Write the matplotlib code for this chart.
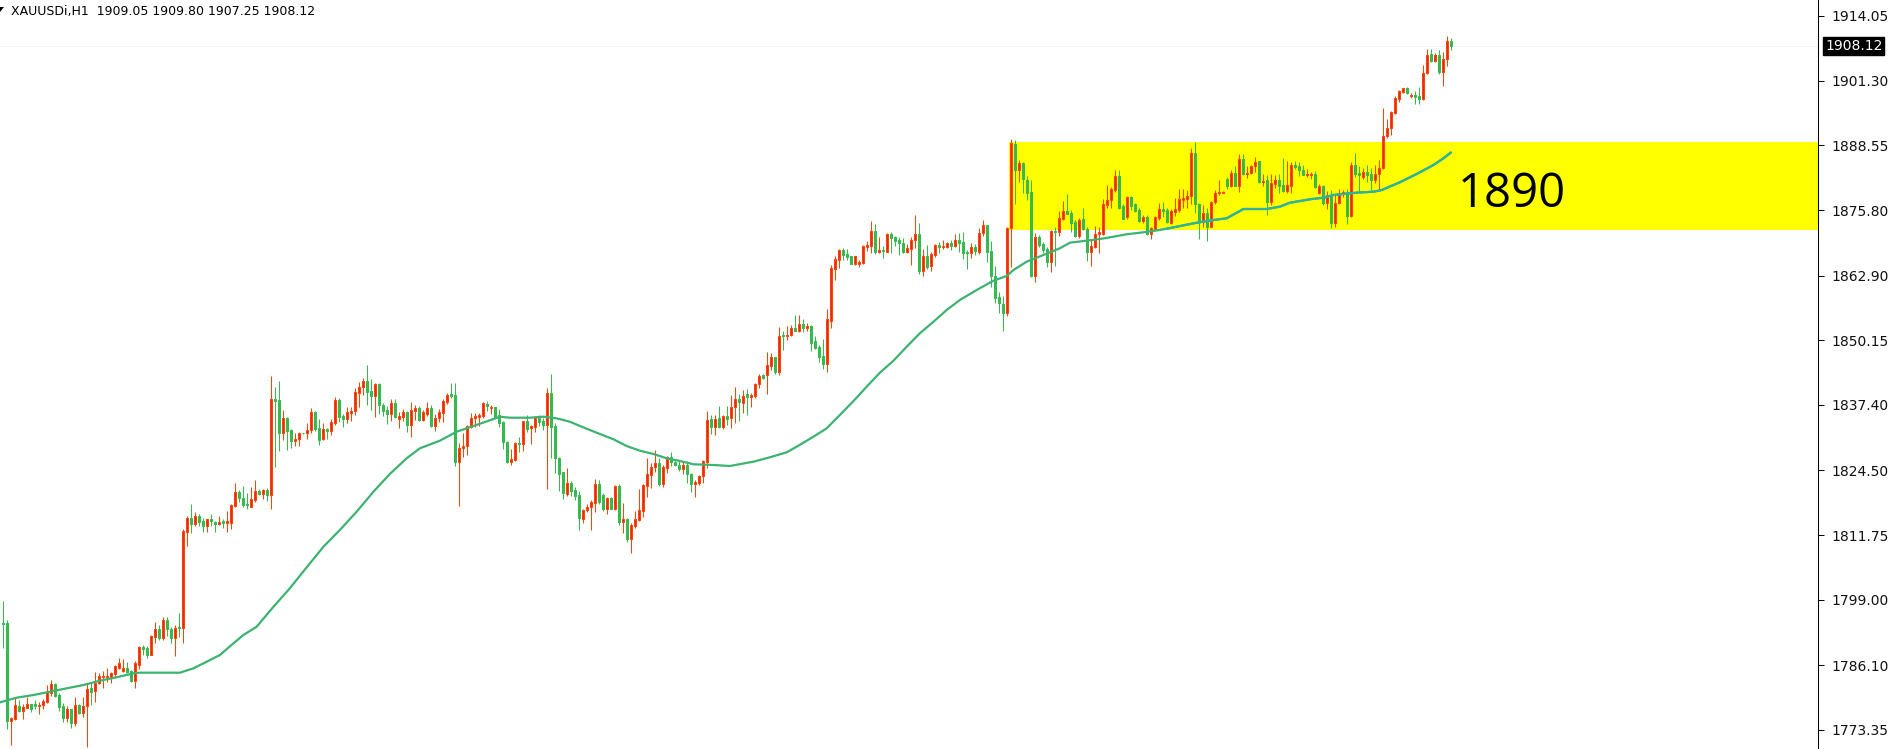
import numpy as np
import matplotlib
matplotlib.use("Agg")
import matplotlib.pyplot as plt
from matplotlib.patches import Rectangle, Polygon

#
# XAUUSDi H1 bars (oldest first)
#
opens = [
    1794.5, 1794.5, 1775.2, 1775.5, 1778.1, 1777.1, 1777.7, 1778.4, 1778.4, 1778.1,
    1778.3, 1778.9, 1780.6, 1782.4, 1780.2, 1778.0, 1775.7, 1777.5, 1774.8, 1778.3,
    1776.6, 1778.0, 1781.7, 1781.1, 1782.5, 1783.8, 1783.8, 1783.8, 1784.4, 1785.6,
    1785.0, 1785.5, 1785.0, 1783.0, 1786.2, 1789.6, 1789.4, 1788.2, 1791.7, 1793.2,
    1791.4, 1795.0, 1793.2, 1791.4, 1793.6, 1793.4, 1812.4, 1815.2, 1813.9, 1815.5,
    1814.5, 1813.6, 1815.0, 1814.4, 1813.9, 1814.5, 1814.2, 1814.2, 1817.5, 1820.2,
    1819.0, 1817.9, 1817.3, 1818.7, 1820.5, 1819.8, 1820.6, 1819.6, 1838.5, 1838.4,
    1831.8, 1834.9, 1832.5, 1830.2, 1830.6, 1831.9, 1831.9, 1832.5, 1836.0, 1832.8,
    1830.6, 1832.7, 1832.3, 1833.9, 1838.4, 1835.2, 1834.6, 1835.9, 1836.3, 1839.7,
    1840.9, 1842.1, 1840.1, 1839.2, 1841.5, 1837.4, 1836.4, 1835.6, 1837.8, 1834.6,
    1835.1, 1836.0, 1833.4, 1836.3, 1836.7, 1834.4, 1835.7, 1836.7, 1833.3, 1834.8,
    1835.9, 1838.0, 1839.5, 1839.4, 1826.2, 1829.0, 1829.3, 1833.1, 1834.9, 1835.1,
    1835.2, 1837.6, 1836.7, 1836.9, 1835.4, 1834.1, 1830.0, 1826.2, 1826.5, 1829.8,
    1829.6, 1834.2, 1832.8, 1833.1, 1834.9, 1834.2, 1833.4, 1839.8, 1833.3, 1826.9,
    1824.2, 1819.8, 1822.1, 1820.6, 1819.6, 1814.9, 1816.6, 1817.2, 1818.1, 1821.8,
    1819.6, 1816.9, 1819.1, 1816.9, 1821.4, 1814.4, 1814.9, 1811.0, 1813.5, 1814.8,
    1816.5, 1821.5, 1823.6, 1825.1, 1825.9, 1821.8, 1825.0, 1827.1, 1826.2, 1825.6,
    1824.8, 1825.6, 1823.8, 1821.9, 1822.1, 1823.3, 1826.2, 1834.6, 1833.0, 1834.8,
    1833.1, 1835.2, 1834.8, 1836.9, 1838.5, 1837.7, 1839.6, 1839.0, 1839.2, 1841.5,
    1843.3, 1843.2, 1845.1, 1846.8, 1843.8, 1851.1, 1850.9, 1851.1, 1852.6, 1852.0,
    1853.3, 1852.6, 1853.0, 1849.9, 1848.9, 1847.0, 1845.5, 1854.0, 1864.2, 1866.0,
    1867.9, 1867.2, 1866.8, 1865.2, 1865.2, 1865.4, 1868.6, 1868.8, 1871.7, 1867.6,
    1867.9, 1867.6, 1871.1, 1870.4, 1869.9, 1869.4, 1867.6, 1868.1, 1869.9, 1871.1,
    1863.7, 1866.8, 1864.7, 1867.0, 1868.9, 1868.5, 1868.6, 1869.4, 1868.7, 1869.9,
    1869.6, 1867.6, 1867.4, 1868.6, 1867.6, 1871.2, 1872.8, 1867.7, 1862.9, 1858.7,
    1857.2, 1855.6, 1872.2, 1888.8, 1883.6, 1885.0, 1881.7, 1879.3, 1862.9, 1870.4,
    1869.2, 1868.1, 1865.6, 1871.7, 1871.4, 1874.0, 1875.6, 1875.3, 1873.5, 1870.7,
    1874.0, 1872.1, 1867.6, 1868.6, 1871.0, 1871.1, 1876.8, 1877.7, 1879.8, 1882.5,
    1876.6, 1874.4, 1878.3, 1876.9, 1875.8, 1873.7, 1874.5, 1871.0, 1872.1, 1874.2,
    1876.0, 1875.8, 1873.2, 1875.5, 1875.8, 1877.8, 1878.0, 1878.5, 1887.1, 1876.9,
    1873.5, 1875.3, 1872.5, 1877.3, 1879.1, 1879.2, 1881.9, 1880.6, 1883.2, 1880.6,
    1885.8, 1882.9, 1883.2, 1884.4, 1885.5, 1881.4, 1881.7, 1877.3, 1880.9, 1881.7,
    1880.7, 1879.6, 1880.6, 1884.7, 1884.5, 1883.7, 1882.7, 1882.7, 1883.0, 1879.2,
    1880.5, 1877.1, 1878.8, 1873.2, 1877.1, 1879.1, 1879.4, 1874.7, 1884.7, 1883.2,
    1882.4, 1883.4, 1882.9, 1881.7, 1883.0, 1884.0, 1890.3, 1891.9, 1895.0, 1897.7,
    1899.1, 1899.8, 1898.3, 1898.5, 1898.2, 1897.6, 1902.8, 1906.6, 1905.1, 1906.4,
    1903.1, 1905.5, 1909.05,
]
highs = [
    1798.8, 1795.1, 1775.9, 1779.9, 1779.3, 1778.4, 1779.9, 1778.4, 1779.2, 1778.9,
    1779.5, 1782.2, 1783.2, 1782.5, 1780.6, 1778.7, 1778.1, 1777.5, 1779.9, 1778.4,
    1779.9, 1782.5, 1782.5, 1784.7, 1784.5, 1785.0, 1785.5, 1784.8, 1786.1, 1787.6,
    1787.3, 1786.8, 1785.1, 1786.9, 1789.8, 1790.1, 1789.8, 1792.0, 1794.7, 1794.0,
    1795.7, 1795.7, 1793.7, 1794.0, 1796.3, 1812.9, 1815.5, 1817.9, 1816.2, 1815.9,
    1815.2, 1815.0, 1815.9, 1814.5, 1815.5, 1815.0, 1816.5, 1817.9, 1822.1, 1820.6,
    1821.4, 1820.1, 1821.3, 1822.7, 1820.8, 1820.8, 1821.0, 1843.1, 1840.9, 1842.1,
    1836.4, 1835.1, 1832.6, 1831.8, 1832.1, 1831.9, 1833.8, 1836.7, 1836.2, 1834.7,
    1833.8, 1832.9, 1834.6, 1838.9, 1838.7, 1835.7, 1836.9, 1837.0, 1840.7, 1841.9,
    1842.8, 1845.3, 1842.6, 1841.7, 1841.7, 1837.7, 1837.2, 1838.5, 1838.5, 1836.1,
    1836.5, 1836.2, 1838.0, 1837.4, 1837.1, 1836.4, 1838.0, 1837.4, 1835.7, 1836.5,
    1838.5, 1839.8, 1841.7, 1841.7, 1829.8, 1831.8, 1833.4, 1835.9, 1835.9, 1835.9,
    1837.9, 1838.2, 1837.4, 1836.9, 1836.6, 1834.2, 1830.2, 1828.7, 1830.0, 1831.0,
    1834.2, 1835.4, 1833.4, 1835.2, 1835.4, 1834.9, 1840.7, 1843.5, 1833.8, 1827.1,
    1824.2, 1825.0, 1822.4, 1821.3, 1820.5, 1816.9, 1817.8, 1818.7, 1822.8, 1822.6,
    1820.0, 1819.3, 1819.3, 1821.6, 1821.9, 1818.0, 1815.2, 1814.2, 1816.4, 1820.8,
    1821.9, 1827.0, 1825.9, 1828.5, 1827.0, 1825.6, 1827.3, 1828.1, 1826.4, 1826.4,
    1826.2, 1826.3, 1824.0, 1822.6, 1823.5, 1826.5, 1836.2, 1835.4, 1835.5, 1837.2,
    1835.4, 1837.2, 1839.4, 1840.9, 1839.6, 1840.3, 1840.5, 1839.7, 1841.8, 1843.5,
    1843.4, 1847.8, 1847.6, 1846.8, 1852.8, 1852.0, 1853.0, 1853.2, 1855.1, 1855.1,
    1854.3, 1853.5, 1853.2, 1851.0, 1849.2, 1850.3, 1856.3, 1864.9, 1866.8, 1868.1,
    1868.4, 1868.1, 1866.8, 1866.8, 1866.0, 1868.9, 1869.7, 1873.7, 1873.1, 1870.4,
    1868.7, 1871.2, 1871.4, 1870.6, 1870.4, 1870.3, 1869.1, 1870.4, 1874.9, 1873.3,
    1868.1, 1868.9, 1867.6, 1869.1, 1869.5, 1869.9, 1869.5, 1869.9, 1871.0, 1871.2,
    1871.4, 1867.9, 1869.4, 1869.2, 1872.2, 1873.9, 1872.9, 1869.7, 1864.7, 1859.7,
    1858.9, 1872.5, 1889.8, 1889.6, 1885.7, 1885.3, 1882.5, 1881.7, 1871.2, 1870.9,
    1869.6, 1868.5, 1871.9, 1872.5, 1875.7, 1877.5, 1879.0, 1875.8, 1873.9, 1874.3,
    1876.2, 1872.4, 1870.0, 1872.7, 1872.5, 1877.9, 1880.8, 1880.4, 1883.7, 1883.7,
    1876.9, 1878.6, 1878.6, 1877.1, 1876.3, 1874.8, 1874.8, 1872.5, 1874.6, 1877.1,
    1877.3, 1876.2, 1876.0, 1878.1, 1880.0, 1880.0, 1879.8, 1888.0, 1889.3, 1877.1,
    1876.8, 1876.3, 1877.5, 1879.8, 1881.7, 1879.6, 1882.4, 1883.7, 1884.4, 1886.8,
    1886.8, 1884.4, 1884.6, 1886.2, 1885.5, 1882.9, 1882.7, 1882.9, 1882.7, 1883.0,
    1886.1, 1885.5, 1885.3, 1885.5, 1885.3, 1884.6, 1883.8, 1883.4, 1883.5, 1880.9,
    1880.7, 1879.6, 1879.8, 1879.0, 1880.0, 1879.8, 1879.9, 1885.3, 1887.0, 1884.5,
    1884.0, 1884.6, 1884.0, 1884.7, 1885.7, 1896.0, 1893.8, 1895.3, 1898.2, 1899.5,
    1899.9, 1900.1, 1898.8, 1899.3, 1900.1, 1904.4, 1907.5, 1907.6, 1906.8, 1907.4,
    1906.9, 1910.1, 1909.80,
]
lows = [
    1789.4, 1773.5, 1770.4, 1775.3, 1776.9, 1775.5, 1777.6, 1776.9, 1777.5, 1776.4,
    1777.5, 1778.7, 1780.1, 1779.9, 1777.0, 1775.0, 1775.0, 1773.8, 1774.2, 1776.4,
    1775.9, 1770.0, 1778.3, 1778.9, 1782.4, 1781.7, 1782.8, 1782.6, 1783.8, 1785.3,
    1784.8, 1784.5, 1782.7, 1781.7, 1785.3, 1788.2, 1787.6, 1788.1, 1790.4, 1791.1,
    1791.1, 1791.9, 1790.4, 1787.9, 1791.6, 1790.4, 1809.5, 1812.2, 1813.6, 1813.6,
    1812.4, 1812.4, 1813.6, 1812.4, 1813.7, 1813.1, 1812.4, 1812.9, 1817.3, 1818.3,
    1817.2, 1816.8, 1817.2, 1818.3, 1819.6, 1818.9, 1818.5, 1816.9, 1825.2, 1828.4,
    1830.5, 1828.5, 1829.0, 1829.4, 1829.4, 1831.7, 1830.7, 1831.8, 1832.3, 1829.5,
    1830.5, 1830.6, 1831.5, 1833.4, 1834.1, 1833.1, 1833.8, 1834.3, 1835.4, 1836.9,
    1839.4, 1837.4, 1836.4, 1835.1, 1835.7, 1835.2, 1833.6, 1834.3, 1834.8, 1832.9,
    1834.3, 1832.1, 1831.1, 1834.4, 1834.2, 1834.3, 1835.3, 1833.0, 1832.3, 1834.1,
    1834.1, 1837.6, 1838.7, 1825.4, 1817.5, 1827.2, 1827.5, 1832.8, 1833.1, 1833.3,
    1834.8, 1836.3, 1835.6, 1835.0, 1833.0, 1828.7, 1826.0, 1825.6, 1826.4, 1828.2,
    1828.4, 1832.1, 1829.7, 1832.1, 1833.3, 1832.5, 1820.8, 1826.9, 1823.9, 1820.5,
    1818.8, 1819.5, 1819.5, 1818.7, 1812.7, 1814.2, 1816.2, 1812.7, 1816.2, 1817.9,
    1816.4, 1816.0, 1816.8, 1816.7, 1813.7, 1812.2, 1810.3, 1808.3, 1813.2, 1814.5,
    1815.4, 1819.3, 1821.1, 1824.2, 1821.5, 1821.2, 1824.0, 1825.4, 1825.4, 1824.4,
    1823.7, 1822.1, 1820.3, 1819.3, 1821.7, 1822.1, 1824.9, 1831.6, 1831.5, 1832.8,
    1832.7, 1833.5, 1832.9, 1833.9, 1834.3, 1835.9, 1835.4, 1836.9, 1838.8, 1840.8,
    1842.5, 1839.6, 1844.3, 1843.4, 1843.2, 1848.2, 1850.1, 1851.0, 1852.0, 1851.8,
    1851.8, 1852.0, 1848.1, 1848.4, 1845.9, 1844.5, 1843.8, 1852.6, 1862.0, 1864.3,
    1866.0, 1866.0, 1865.2, 1865.0, 1864.5, 1865.1, 1867.7, 1867.3, 1867.1, 1867.3,
    1866.4, 1867.5, 1867.4, 1868.8, 1867.0, 1867.3, 1867.3, 1865.0, 1868.3, 1863.2,
    1862.8, 1864.1, 1863.7, 1866.6, 1867.3, 1868.1, 1868.3, 1867.9, 1868.6, 1867.6,
    1866.2, 1864.2, 1866.3, 1867.0, 1867.1, 1870.6, 1865.6, 1860.7, 1857.5, 1855.6,
    1851.9, 1855.0, 1864.5, 1877.0, 1881.4, 1879.2, 1877.8, 1862.7, 1861.7, 1868.6,
    1867.4, 1864.5, 1863.5, 1864.8, 1870.6, 1873.9, 1875.0, 1871.5, 1870.4, 1870.2,
    1871.8, 1865.8, 1864.8, 1868.4, 1867.3, 1870.9, 1876.3, 1876.3, 1879.4, 1876.1,
    1874.0, 1874.1, 1875.8, 1875.5, 1873.4, 1873.2, 1870.9, 1870.1, 1871.9, 1873.9,
    1874.4, 1873.2, 1873.0, 1874.6, 1875.5, 1876.3, 1876.2, 1877.0, 1875.2, 1870.1,
    1872.5, 1869.8, 1872.5, 1876.9, 1878.8, 1879.1, 1879.9, 1880.4, 1880.6, 1879.4,
    1882.7, 1882.1, 1883.0, 1883.4, 1881.1, 1880.5, 1874.8, 1876.8, 1880.1, 1879.2,
    1879.4, 1879.2, 1879.2, 1883.8, 1882.6, 1882.7, 1882.4, 1881.9, 1880.1, 1879.0,
    1876.8, 1876.0, 1872.3, 1872.5, 1876.9, 1878.4, 1873.0, 1874.4, 1882.3, 1879.6,
    1881.9, 1881.4, 1879.6, 1881.1, 1879.6, 1883.8, 1890.1, 1890.6, 1894.7, 1897.0,
    1898.8, 1898.7, 1897.8, 1896.8, 1896.8, 1897.5, 1902.6, 1904.9, 1904.9, 1902.6,
    1900.3, 1904.1, 1907.25,
]
closes = [
    1794.2, 1775.2, 1775.7, 1778.3, 1777.1, 1777.8, 1778.4, 1777.4, 1778.1, 1778.3,
    1779.1, 1780.9, 1782.4, 1780.1, 1777.9, 1775.7, 1777.5, 1774.8, 1778.3, 1776.6,
    1778.0, 1781.5, 1780.9, 1782.5, 1783.9, 1783.9, 1783.9, 1784.5, 1785.9, 1786.5,
    1785.5, 1784.8, 1783.0, 1786.5, 1789.6, 1789.3, 1788.2, 1791.9, 1793.2, 1791.4,
    1795.0, 1793.2, 1791.4, 1793.4, 1793.4, 1812.5, 1815.2, 1813.9, 1815.5, 1814.4,
    1813.6, 1815.0, 1814.6, 1813.9, 1814.4, 1814.2, 1814.5, 1817.7, 1820.2, 1819.0,
    1817.7, 1817.6, 1818.8, 1820.4, 1819.8, 1820.6, 1819.6, 1838.5, 1838.2, 1831.9,
    1834.9, 1832.3, 1830.2, 1830.7, 1831.8, 1831.8, 1832.5, 1836.0, 1832.7, 1830.5,
    1832.7, 1832.3, 1834.0, 1838.4, 1835.1, 1834.6, 1836.0, 1836.3, 1839.9, 1840.9,
    1842.1, 1840.0, 1839.2, 1841.5, 1837.3, 1836.3, 1835.6, 1837.8, 1835.1, 1835.2,
    1836.0, 1833.5, 1836.4, 1836.7, 1834.4, 1836.0, 1836.7, 1833.3, 1834.9, 1836.0,
    1838.2, 1839.4, 1839.2, 1826.2, 1829.0, 1829.3, 1833.3, 1834.9, 1835.2, 1835.4,
    1837.7, 1837.1, 1836.9, 1835.1, 1833.9, 1830.0, 1826.2, 1826.7, 1829.8, 1829.6,
    1834.2, 1832.7, 1833.3, 1835.0, 1834.1, 1833.4, 1839.8, 1833.1, 1826.9, 1823.8,
    1820.1, 1822.1, 1820.5, 1819.5, 1815.2, 1816.7, 1817.3, 1818.3, 1821.8, 1818.2,
    1816.9, 1819.0, 1816.9, 1821.4, 1814.4, 1814.9, 1811.0, 1813.7, 1814.9, 1816.7,
    1821.6, 1823.7, 1825.2, 1825.9, 1821.8, 1825.2, 1827.2, 1826.1, 1825.6, 1824.7,
    1825.6, 1823.7, 1821.9, 1822.3, 1823.4, 1826.3, 1834.4, 1833.0, 1834.6, 1833.1,
    1835.2, 1834.6, 1836.9, 1838.5, 1837.9, 1839.2, 1839.0, 1839.4, 1841.5, 1843.1,
    1842.8, 1845.3, 1846.8, 1843.8, 1851.0, 1850.9, 1851.2, 1852.6, 1852.0, 1853.3,
    1852.6, 1853.0, 1849.7, 1848.7, 1846.9, 1845.5, 1854.3, 1864.3, 1866.1, 1867.9,
    1867.0, 1866.5, 1865.2, 1866.8, 1865.6, 1868.7, 1868.9, 1871.7, 1867.6, 1867.9,
    1867.7, 1871.1, 1870.3, 1869.8, 1869.3, 1867.6, 1868.3, 1869.9, 1871.1, 1863.7,
    1866.8, 1864.5, 1867.2, 1868.9, 1868.5, 1868.7, 1869.4, 1868.8, 1869.9, 1869.4,
    1867.4, 1867.4, 1868.6, 1867.8, 1871.2, 1872.8, 1867.6, 1862.8, 1858.5, 1857.4,
    1855.6, 1872.2, 1889.0, 1883.6, 1885.0, 1881.9, 1879.2, 1862.9, 1870.4, 1868.9,
    1867.9, 1865.6, 1871.6, 1871.4, 1874.2, 1875.6, 1875.0, 1873.3, 1870.7, 1873.9,
    1872.0, 1867.6, 1868.7, 1871.1, 1871.4, 1877.0, 1877.8, 1880.0, 1882.5, 1876.3,
    1874.1, 1878.4, 1876.6, 1875.6, 1873.7, 1874.5, 1871.0, 1872.2, 1874.4, 1876.0,
    1875.6, 1873.4, 1875.6, 1876.0, 1878.0, 1878.2, 1878.6, 1887.1, 1876.9, 1873.7,
    1875.3, 1872.5, 1877.3, 1879.2, 1879.4, 1879.4, 1880.6, 1883.2, 1880.6, 1885.8,
    1883.0, 1883.2, 1884.5, 1885.2, 1881.4, 1881.6, 1877.3, 1881.1, 1881.7, 1880.6,
    1879.6, 1880.7, 1884.7, 1884.2, 1883.6, 1882.7, 1883.0, 1883.0, 1880.3, 1880.5,
    1877.1, 1878.8, 1873.2, 1877.1, 1879.1, 1879.3, 1874.7, 1884.7, 1883.0, 1882.7,
    1883.4, 1882.7, 1881.7, 1883.0, 1884.0, 1890.4, 1892.0, 1895.1, 1897.8, 1899.3,
    1899.8, 1898.9, 1898.5, 1898.0, 1897.6, 1902.8, 1906.4, 1905.1, 1906.4, 1903.1,
    1905.5, 1909.1, 1908.12,
]

# moving average, sampled along the drawn line (bar index, price)
ma_idx = [
    -0.67, 3.5, 7.7, 11.8, 16, 20.2, 24.3, 28.5, 32.7, 34.3, 44.3, 47.7, 51, 54.3, 57.7, 60.2,
    63.5, 67.7, 71.8, 76, 80.2, 84.3, 88.5, 92.7, 96.8, 101, 104.3, 109.3, 113.5, 117.7,
    121.8, 124.3, 126.8, 131.8, 135.2, 138.5, 141.8, 144.3, 146.8, 149.3, 152.7, 156, 159.3,
    162.7, 166, 169.3, 172.7, 177.7, 181.8,
    183.1, 187.7, 191.8, 196, 198.5, 202.7, 206, 209.3, 212.7, 216, 219.3, 222.7, 226, 229.3,
    232.7, 236, 239.3,
    243.5, 247.7, 251, 252.7, 256, 260.2, 264.3, 266.8, 271, 274.3, 277.7, 281, 285.2, 289.3,
    293.5, 297.7,
    302.7, 306, 310.2, 316, 319.3, 321.8, 326.8, 330.2, 332.7, 338.5, 342.7, 344.8, 349.3,
    353.5, 357.7, 360.2, 362,
]
ma_val = [
    1778.79, 1779.70, 1780.23, 1780.88, 1781.55, 1782.20, 1783.05, 1783.72, 1784.51, 1784.63,
    1784.63, 1785.49, 1786.79, 1788.11, 1790.42, 1792.06,
    1793.69, 1797.63, 1801.26, 1805.40, 1809.46, 1812.75, 1816.36, 1820.30, 1823.79, 1826.88,
    1828.85, 1830.35, 1832.12, 1833.25,
    1834.37, 1835.08, 1834.88, 1834.88, 1835.08, 1834.76, 1834.09, 1833.25, 1832.46, 1831.67,
    1830.62, 1829.30, 1828.38, 1827.73, 1826.88, 1826.35, 1825.70, 1825.56, 1825.36,
    1825.56, 1826.21, 1827.08, 1828.06, 1829.17, 1831.14, 1832.79, 1835.41, 1838.17, 1840.99,
    1843.75, 1846.12, 1848.87, 1851.52, 1853.80, 1856.11, 1858.08,
    1860.05, 1861.88, 1862.81, 1863.99, 1865.63, 1866.95, 1868.27, 1869.37, 1869.77, 1870.10,
    1870.55, 1871.03, 1871.42, 1871.87, 1872.52, 1873.19,
    1873.84, 1874.18, 1876.01, 1876.01, 1876.47, 1877.25, 1877.92, 1878.24, 1878.77, 1879.23,
    1879.42, 1879.76, 1881.28, 1882.91, 1884.68, 1886.01, 1887.11,
]

# price scale labels and the marked zone
price_ticks = [1914.05, 1901.30, 1888.55, 1875.80, 1862.90, 1850.15,
               1837.40, 1824.50, 1811.75, 1799.00, 1786.10, 1773.35]
zone_low, zone_high = 1871.94, 1889.28
zone_start = 251.65
zone_label = "1890"
bid = 1908.12
title = "XAUUSDi,H1  1909.05 1909.80 1907.25 1908.12"

UP_BODY = "#e8281e"
UP_EDGE = "#ff4500"
DOWN = "#36b94f"
MA_COLOR = "#3cb371"
MA_IN_ZONE = "#2fb39c"

W, H = 1894, 749
fig = plt.figure(figsize=(W / 100, H / 100), dpi=100)
fig.patch.set_facecolor("white")
ax = fig.add_axes([0, 0, 1818 / W, 1])

o = np.array(opens)
h = np.array(highs)
l = np.array(lows)
c = np.array(closes)
x = np.arange(len(o))
up = c >= o

# zone rectangle (behind everything)
zone = Rectangle((zone_start, zone_low), 1000, zone_high - zone_low,
                 facecolor="#ffff00", edgecolor="none", zorder=0)
ax.add_patch(zone)

# bid line, very faint
ax.axhline(bid, color="#f3f3f3", lw=0.7, zorder=0.5)

# wicks
ax.vlines(x[up], l[up], h[up], color=UP_EDGE, lw=0.75, zorder=2)
ax.vlines(x[~up], l[~up], h[~up], color=DOWN, lw=0.75, zorder=2)

# bodies
ax.bar(x[up], c[up] - o[up], bottom=o[up], width=0.55, color=UP_BODY,
       edgecolor=UP_EDGE, linewidth=0.75, zorder=3)
ax.bar(x[~up], o[~up] - c[~up], bottom=c[~up], width=0.55, color=DOWN,
       edgecolor=DOWN, linewidth=0.75, zorder=3)

# moving average, recoloured where it crosses the zone
ax.plot(ma_idx, ma_val, color=MA_COLOR, lw=1.6, zorder=4)
inner, = ax.plot(ma_idx, ma_val, color=MA_IN_ZONE, lw=1.6, zorder=4.1)
inner.set_clip_path(zone)

ax.set_xlim(-0.667, 453.83)
ax.set_ylim(1769.59, 1917.20)

for s in ["left", "top", "bottom"]:
    ax.spines[s].set_visible(False)
ax.spines["right"].set_color("black")
ax.spines["right"].set_linewidth(0.75)
ax.set_xticks([])
ax.yaxis.tick_right()
ax.set_yticks(price_ticks)
ax.set_yticklabels([f"{v:.2f}" for v in price_ticks])
ax.tick_params(axis="y", length=4, width=0.75, pad=6, labelsize=10,
               colors="black", labelcolor="#111111")

# current price tag
ax.annotate(f"{bid:.2f}", xy=(1, bid), xycoords=("axes fraction", "data"),
            xytext=(7, 0), textcoords="offset pixels", va="center", ha="left",
            fontsize=10, color="white",
            bbox=dict(boxstyle="square,pad=0.15", fc="black", ec="black"))

# zone label
fig.text(1512 / W, 1 - 206.7 / H, zone_label, ha="center", va="baseline",
         fontsize=34, family="Open Sans", color="black")

# header
fig.text(11 / W, 1 - 11.5 / H, title, ha="left", va="center", fontsize=9,
         color="black")
fig.patches.append(Polygon([(0, H - 7), (4, H - 7), (0, H - 12)], closed=True,
                           transform=None, facecolor="black", edgecolor="none"))

fig.savefig("out.png", dpi=100)
